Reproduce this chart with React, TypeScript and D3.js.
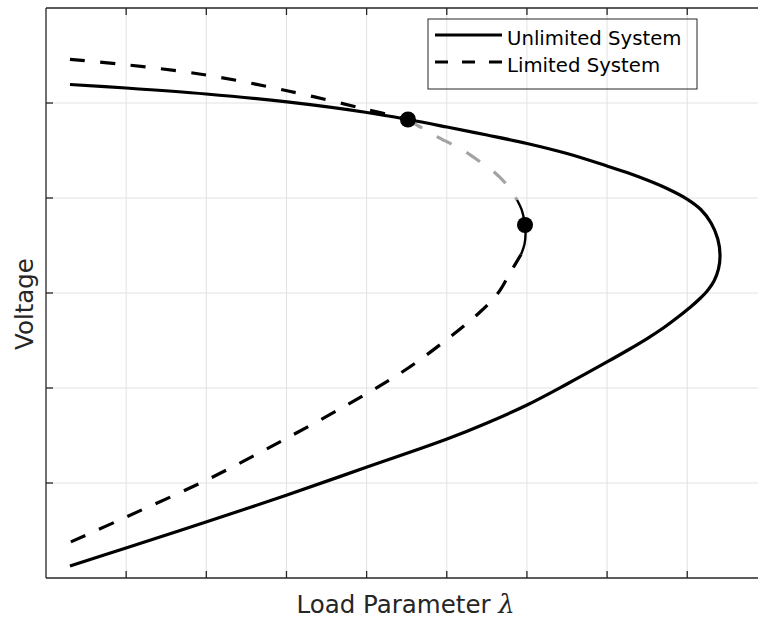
import React from "react";
import * as d3 from "d3";

// Axis ticks (no tick labels are shown, only marks and grid)
const xTicks = [1, 2, 3, 4, 5, 6, 7, 8];
const yTicks = [1, 2, 3, 4, 5];

// Unlimited system PV curve (load parameter vs voltage), upper branch -> nose -> lower branch
const unlimitedLambda = [
  0.299, 0.998, 1.996, 3.007, 4.005, 4.516, 5.003, 5.502, 6.001, 6.5, 6.999, 7.248, 7.498, 7.747,
  7.997, 8.169, 8.299, 8.381, 8.409, 8.39, 8.334, 8.259, 8.159, 8.034, 7.885, 7.71, 7.51, 7.261,
  6.999, 6.5, 6.001, 5.502, 5.003, 4.005, 3.007, 1.996, 0.998, 0.299,
];
const unlimitedVoltage = [
  5.195, 5.158, 5.095, 5.011, 4.9, 4.826, 4.747, 4.663, 4.574, 4.468, 4.337, 4.268, 4.189, 4.1,
  3.989, 3.879, 3.735, 3.568, 3.4, 3.253, 3.126, 3.032, 2.942, 2.847, 2.747, 2.637, 2.526, 2.4,
  2.274, 2.042, 1.821, 1.632, 1.463, 1.168, 0.874, 0.589, 0.316, 0.126,
];

// Limited system PV curve, split into its drawn pieces
const limitedUpperLambda = [0.299, 0.998, 1.996, 3.007, 4.005, 4.516];
const limitedUpperVoltage = [5.46, 5.403, 5.295, 5.129, 4.932, 4.826];

const limitedUnstableLambda = [4.516, 4.691, 4.878, 5.066, 5.24, 5.402, 5.59, 5.752, 5.877];
const limitedUnstableVoltage = [4.826, 4.737, 4.647, 4.563, 4.484, 4.389, 4.274, 4.137, 3.979];

const limitedNoseLambda = [5.877, 5.935, 5.97, 5.983, 5.97, 5.926];
const limitedNoseVoltage = [3.979, 3.874, 3.747, 3.632, 3.516, 3.405];

const limitedLowerLambda = [0.31, 1.0, 2.0, 3.0, 4.0, 4.5, 5.0, 5.415, 5.64, 5.789, 5.926];
const limitedLowerVoltage = [0.38, 0.642, 1.03, 1.47, 1.94, 2.2, 2.51, 2.8, 3.0, 3.211, 3.405];

// Marked operating points
const markerLambda = [4.516, 5.976];
const markerVoltage = [4.826, 3.716];

const legendLabels = ["Unlimited System", "Limited System"];

const W = 758;
const H = 624;
const left = 46;
const top = 8;
const bottom = 578;
const right = 767.4;

const AXIS = "#262626";
const GRID = "#e2e2e2";
const FONT = "'DejaVu Sans', sans-serif";

export default function App() {
  const x = d3.scaleLinear().domain([0, 9]).range([left, right]);
  const y = d3.scaleLinear().domain([0, 6]).range([bottom, top]);

  const pts = (ls: number[], vs: number[]) => ls.map((l, i) => [l, vs[i]] as [number, number]);
  const line = d3
    .line<[number, number]>()
    .x((d) => x(d[0]))
    .y((d) => y(d[1]))
    .curve(d3.curveCatmullRom.alpha(0.5));

  const lw = 3.2;

  return (
    <svg
      width={W}
      height={H}
      style={{ position: "absolute", left: 0, top: 0, background: "#fff" }}
    >
      <rect x={0} y={0} width={W} height={H} fill="#fff" />
      {/* grid */}
      <g stroke={GRID} strokeWidth={1}>
        {xTicks.map((t) => (
          <line key={"gx" + t} x1={x(t)} x2={x(t)} y1={top} y2={bottom} />
        ))}
        {yTicks.map((t) => (
          <line key={"gy" + t} x1={left} x2={right} y1={y(t)} y2={y(t)} />
        ))}
      </g>

      {/* curves */}
      <g fill="none" strokeLinejoin="round">
        <path d={line(pts(unlimitedLambda, unlimitedVoltage)) || ""} stroke="#000" strokeWidth={lw} />
        <path
          d={line(pts(limitedUpperLambda, limitedUpperVoltage)) || ""}
          stroke="#000"
          strokeWidth={lw}
          strokeDasharray="15 15.5"
        />
        <path
          d={line(pts(limitedUnstableLambda, limitedUnstableVoltage)) || ""}
          stroke="#a3a3a3"
          strokeWidth={lw}
          strokeDasharray="16.5 17"
        />
        <path d={line(pts(limitedNoseLambda, limitedNoseVoltage)) || ""} stroke="#000" strokeWidth={2.4} />
        <path
          d={line(pts(limitedLowerLambda, limitedLowerVoltage)) || ""}
          stroke="#000"
          strokeWidth={lw}
          strokeDasharray="16 15"
        />
      </g>

      {/* markers */}
      {markerLambda.map((l, i) => (
        <circle key={"m" + i} cx={x(l)} cy={y(markerVoltage[i])} r={8} fill="#000" />
      ))}

      {/* axes box and ticks */}
      <g stroke={AXIS} strokeWidth={1.3} fill="none">
        <line x1={left} x2={left} y1={top} y2={bottom} />
        <line x1={left} x2={right} y1={bottom} y2={bottom} />
        <line x1={left} x2={right} y1={top} y2={top} />
        <line x1={right} x2={right} y1={top} y2={bottom} />
        {xTicks.map((t) => (
          <g key={"tx" + t}>
            <line x1={x(t)} x2={x(t)} y1={bottom} y2={bottom - 7} />
            <line x1={x(t)} x2={x(t)} y1={top} y2={top + 7} />
          </g>
        ))}
        {yTicks.map((t) => (
          <g key={"ty" + t}>
            <line x1={left} x2={left + 7} y1={y(t)} y2={y(t)} />
            <line x1={right} x2={right - 7} y1={y(t)} y2={y(t)} />
          </g>
        ))}
      </g>

      {/* axis labels */}
      <text x={x(4.5) - 1} y={613} textAnchor="middle" fontFamily={FONT} fontSize={24.5} fill={AXIS}>
        Load Parameter{" "}
        <tspan fontFamily="'DejaVu Serif', serif" fontStyle="italic" fontSize={26}>
          λ
        </tspan>
      </text>
      <text
        transform={`translate(33, 304) rotate(-90)`}
        textAnchor="middle"
        fontFamily={FONT}
        fontSize={24.5}
        fill={AXIS}
      >
        Voltage
      </text>

      {/* legend */}
      <g>
        <rect x={428} y={19} width={269} height={70} fill="none" stroke={AXIS} strokeWidth={1} />
        <line x1={435} x2={502} y1={35} y2={35} stroke="#000" strokeWidth={lw} />
        <line x1={435} x2={502} y1={62} y2={62} stroke="#000" strokeWidth={lw} strokeDasharray="13 14" />
        <text x={507} y={45} fontFamily={FONT} fontSize={19.7} fill="#000">
          {legendLabels[0]}
        </text>
        <text x={507} y={71.5} fontFamily={FONT} fontSize={19.7} fill="#000">
          {legendLabels[1]}
        </text>
      </g>
    </svg>
  );
}
